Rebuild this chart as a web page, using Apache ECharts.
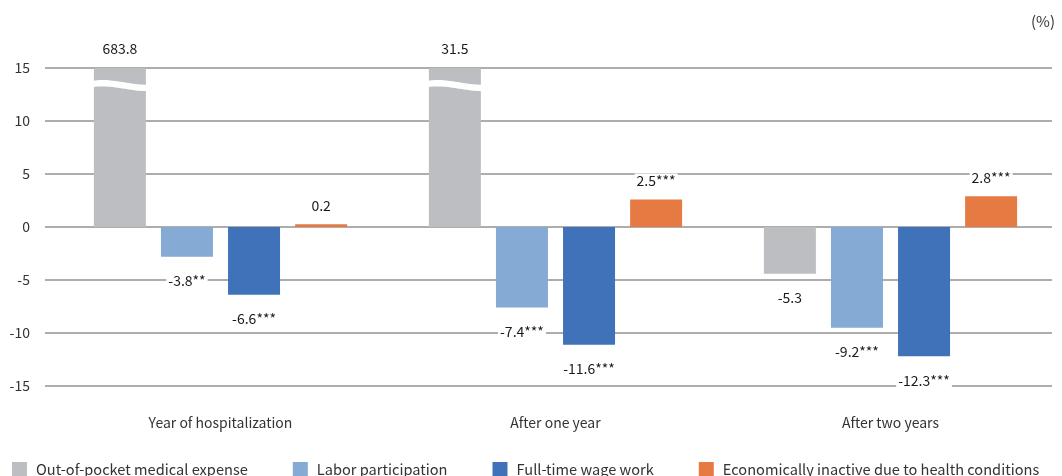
<!DOCTYPE html>
<html lang="en">
<head>
<meta charset="UTF-8">
<title>Hospitalization effects</title>
<script src="https://cdn.jsdelivr.net/npm/echarts@6/dist/echarts.min.js"></script>
<style>html,body{margin:0;padding:0;background:#fff;}</style>
</head>
<body>
<div id="main" style="width:1062px;height:476px;"></div>
<script>
const categories = ['Year of hospitalization', 'After one year', 'After two years'];
const seriesNames = ['Out-of-pocket medical expense', 'Labor participation', 'Full-time wage work', 'Economically inactive due to health conditions'];
const colors = ['#BDBEC2', '#85AAD4', '#3F72B8', '#E57A42'];

// bar heights as drawn (the first two grey bars are cut off at the top)
const expenseBars = [15, 15, -4.4];
const laborBars = [-2.8, -7.6, -9.5];
const fulltimeBars = [-6.4, -11.1, -12.2];
const inactiveBars = [0.25, 2.6, 2.9];

// printed labels
const expenseLabels = ['683.8', '31.5', '-5.3'];
const laborLabels = ['-3.8**', '-7.4***', '-9.2***'];
const fulltimeLabels = ['-6.6***', '-11.6***', '-12.3***'];
const inactiveLabels = ['0.2', '2.5***', '2.8***'];

// axis break marks on the cut grey bars
const breakCats = [0, 1];
const breakValue = 13.4;

const yMin = -15, yMax = 15, yStep = 5;

const FONT = '"Noto Sans CJK KR", "Noto Sans", sans-serif';
const BAR_W = 52;
const BAR_GAP = 0.29;

const chart = echarts.init(document.getElementById('main'));

function makeBar(i, values, labels) {
    return {
        name: seriesNames[i],
        type: 'bar',
        xAxisIndex: 1,
        yAxisIndex: 1,
        barWidth: BAR_W,
        barGap: (BAR_GAP * 100) + '%',
        itemStyle: { color: colors[i] },
        data: values.map(v => ({
            value: v,
            label: { position: v >= 0 ? 'top' : 'bottom', distance: v >= 0 ? 12 : 17 }
        })),
        label: {
            show: true,
            fontFamily: FONT,
            fontSize: 14,
            color: '#1a1a1a',
            backgroundColor: '#fff',
            padding: [0, 2],
            formatter: p => labels[p.dataIndex]
        }
    };
}

function renderBreak(params, api) {
    const p = api.coord([api.value(0), api.value(1)]);
    const gap = BAR_W * BAR_GAP;
    const cx = p[0] - 1.5 * (BAR_W + gap);
    const x0 = cx - BAR_W / 2 - 1, x1 = cx + BAR_W / 2 + 1;
    const top = [], bot = [];
    const P = [-1, -4, 3, 3];
    for (let i = 0; i <= 24; i++) {
        const t = i / 24, u = 1 - t;
        const b = u * u * u * P[0] + 3 * u * u * t * P[1] + 3 * u * t * t * P[2] + t * t * t * P[3];
        const x = x0 + (x1 - x0) * t;
        top.push([x, p[1] + b - 3.2]);
        bot.unshift([x, p[1] + b + 3.2]);
    }
    return { type: 'polygon', z2: 10, shape: { points: top.concat(bot) }, style: { fill: '#fff' } };
}

const option = {
    animation: false,
    textStyle: { fontFamily: FONT },
    title: {
        text: '(%)',
        right: 2,
        top: 9,
        textStyle: { fontFamily: FONT, fontSize: 15, fontWeight: 'normal', color: '#333' }
    },
    legend: {
        data: seriesNames,
        left: 12,
        right: 0,
        top: 462,
        padding: 0,
        icon: 'rect',
        itemWidth: 15,
        itemHeight: 15,
        itemGap: 45,
        textStyle: { fontFamily: FONT, fontSize: 14.6, color: '#333', padding: [0, 0, 0, 4] }
    },
    grid: [
        { left: 45, right: 10, top: 68, bottom: 90 },
        { left: 53, right: 4, top: 68, bottom: 90 }
    ],
    xAxis: [
        { type: 'category', gridIndex: 0, data: categories, show: false },
        {
            type: 'category',
            gridIndex: 1,
            data: categories,
            axisLine: { show: false, onZero: false },
            axisTick: { show: false },
            axisLabel: { margin: 30, fontFamily: FONT, fontSize: 14, color: '#333' }
        }
    ],
    yAxis: [
        {
            type: 'value',
            gridIndex: 0,
            min: yMin,
            max: yMax,
            interval: yStep,
            axisLine: { show: false },
            axisTick: { show: false },
            axisLabel: { margin: 15, fontFamily: FONT, fontSize: 14, color: '#333' },
            splitLine: { lineStyle: { color: '#ADADAD', width: 2 } }
        },
        {
            type: 'value',
            gridIndex: 1,
            min: yMin,
            max: yMax,
            interval: yStep,
            show: false,
            splitLine: { show: false }
        }
    ],
    series: [
        makeBar(0, expenseBars, expenseLabels),
        makeBar(1, laborBars, laborLabels),
        makeBar(2, fulltimeBars, fulltimeLabels),
        makeBar(3, inactiveBars, inactiveLabels),
        {
            type: 'custom',
            xAxisIndex: 1,
            yAxisIndex: 1,
            z: 5,
            silent: true,
            renderItem: renderBreak,
            data: breakCats.map(i => [i, breakValue])
        }
    ]
};

chart.setOption(option);
</script>
</body>
</html>
